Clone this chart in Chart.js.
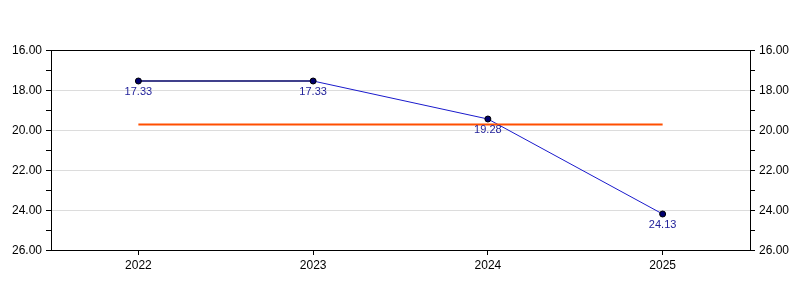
<!DOCTYPE html>
<html>
<head>
<meta charset="utf-8">
<script src="https://cdn.jsdelivr.net/npm/chart.js@4"></script>
<style>
  body { margin: 0; background: #fff; }
</style>
</head>
<body>
<canvas id="chart" width="800" height="300"></canvas>
<script>
const years = ["2022", "2023", "2024", "2025"];
const values = [17.55, 17.55, 19.45, 24.2];
const pointLabels = ["17.33", "17.33", "19.28", "24.13"];
const target = [19.72, 19.72, 19.72, 19.72];

const tickFont = { family: "Arial, 'Liberation Sans'", size: 12 };

// labels under each point + frame around the plot
const extras = {
  id: "extras",
  afterDatasetsDraw(c) {
    const ctx = c.ctx;
    const meta = c.getDatasetMeta(1);
    ctx.save();
    ctx.font = "11px Arial, 'Liberation Sans'";
    ctx.fillStyle = "#22229a";
    ctx.textAlign = "center";
    ctx.textBaseline = "middle";
    meta.data.forEach((p, i) => {
      ctx.fillText(pointLabels[i], p.x, p.y + 10.5);
    });
    const a = c.chartArea;
    ctx.strokeStyle = "#000";
    ctx.lineWidth = 1;
    ctx.strokeRect(Math.round(a.left) + 0.5, Math.round(a.top) + 0.5,
      Math.round(a.right - a.left), Math.round(a.bottom - a.top));
    ctx.restore();
  }
};

function yAxis(pos) {
  return {
    type: "linear",
    position: pos,
    reverse: true,
    min: 16,
    max: 26,
    afterFit: s => { s.width = pos === "left" ? 51 : 50; },
    ticks: {
      stepSize: 1,
      color: "#000",
      font: tickFont,
      padding: 4,
      labelOffset: 1,
      callback: v => (v % 2 === 0 ? v.toFixed(2) : "")
    },
    grid: {
      drawOnChartArea: pos === "left",
      color: ctx => (ctx.tick && ctx.tick.value % 2 === 0 ? "#dcdcdc" : "rgba(0,0,0,0)"),
      tickColor: "#000",
      tickLength: 5
    },
    border: { color: "#000" }
  };
}

new Chart(document.getElementById("chart"), {
  type: "line",
  data: {
    labels: years,
    datasets: [
      {
        data: target,
        borderColor: "#ff4f00",
        borderWidth: 2,
        pointRadius: 0,
        yAxisID: "y"
      },
      {
        data: values,
        borderColor: "#1a1acc",
        borderWidth: 1,
        segment: {
          borderColor: ctx => (ctx.p0DataIndex === 0 ? "#000066" : "#1a1acc"),
          borderWidth: ctx => (ctx.p0DataIndex === 0 ? 1.6 : 1)
        },
        pointRadius: 3,
        pointBackgroundColor: "#00006e",
        pointBorderColor: "#000",
        pointBorderWidth: 1,
        yAxisID: "y"
      }
    ]
  },
  options: {
    responsive: false,
    animation: false,
    layout: { padding: { top: 50 } },
    plugins: { legend: { display: false }, tooltip: { enabled: false } },
    scales: {
      x: {
        offset: true,
        afterFit: s => { s.height = 50; },
        ticks: { color: "#000", font: tickFont, padding: 3 },
        grid: { display: true, drawOnChartArea: false, tickColor: "#000", tickLength: 5, offset: false },
        border: { color: "#000" }
      },
      y: yAxis("left"),
      y2: yAxis("right")
    }
  },
  plugins: [extras]
});
</script>
</body>
</html>
